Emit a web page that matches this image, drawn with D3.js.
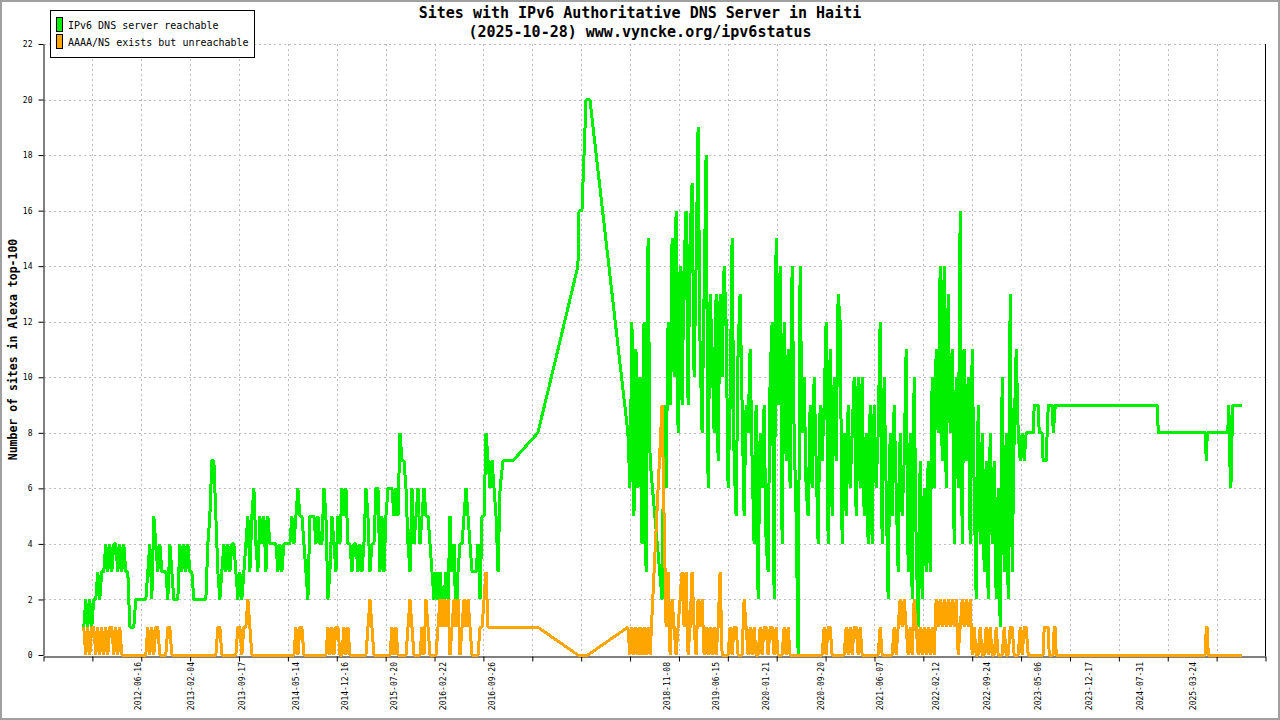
<!DOCTYPE html>
<html>
<head>
<meta charset="utf-8">
<script src="https://cdn.jsdelivr.net/npm/d3@7/dist/d3.min.js"></script>
<style>
  body { margin: 0; background: #fff; }
  svg { display: block; }
  text { font-family: "DejaVu Sans Mono", monospace; fill: #000; }
</style>
</head>
<body>
<svg id="chart"></svg>
<script>
const W = 1280, H = 720;

// ---- data ----
const seriesNames = ["IPv6 DNS server reachable", "AAAA/NS exists but unreachable"];
const seriesColors = ["#00f000", "#ffa500"];

const xDomain = ["2011-04-26", "2026-02-07"];
const yTickValues = [0, 2, 4, 6, 8, 10, 12, 14, 16, 18, 20, 22];
const xLabelDates = ["2012-06-16", "2013-02-04", "2013-09-17", "2014-05-14", "2014-12-16",
  "2015-07-20", "2016-02-22", "2016-09-26", "2018-11-08", "2019-06-15", "2020-01-21",
  "2020-09-20", "2021-06-07", "2022-02-12", "2022-09-24", "2023-05-06", "2023-12-17",
  "2024-07-31", "2025-03-24"];

// first run of daily samples (evenly spaced between the two dates)
const segA = ["2011-10-21", "2016-10-25"];
const greenA = [
  1,2,1,2,1,2,2,3,2,3, 3,4,3,4,3,4,4,3,4,3, 4,3,3,1,1,1,2,2,2,2, 2,2,3,4,2,5,4,3,4,3,
  3,3,2,4,3,2,2,2,4,3, 4,3,4,3,3,2,2,2,2,2, 2,2,4,5,7,7,5,3,2,3, 4,3,4,3,4,4,3,2,3,2,
  3,4,5,3,5,6,4,3,5,4, 5,3,5,4,4,4,4,3,4,3, 4,4,4,4,5,4,5,6,5,5, 4,3,2,5,5,5,4,5,4,4,
  6,5,2,3,5,4,3,5,4,6, 5,6,4,4,3,4,4,3,4,3, 4,6,5,3,4,4,6,6,3,5, 3,5,6,6,6,5,6,5,8,7,
  7,6,4,3,6,4,5,6,4,5, 6,5,5,4,3,2,3,2,3,2, 2,3,2,5,3,4,1,3,4,4, 5,6,5,4,3,3,3,4,2,5,
  5,8,7,6,7,6,5,3];
const orangeA = [
  1,0,1,0,1,1,0,1,0,1, 0,1,0,1,1,0,1,0,1,0, 0,0,0,0,0,0,0,0,0,0, 0,0,1,0,1,0,1,1,0,0,
  0,0,1,1,0,0,0,0,0,0, 0,0,0,0,0,0,0,0,0,0, 0,0,0,0,0,0,0,1,1,0, 0,0,0,0,0,0,0,1,1,0,
  1,1,2,1,0,0,0,0,0,0, 0,0,0,0,0,0,0,0,0,0, 0,0,0,0,0,0,1,0,1,1, 0,0,0,0,0,0,0,0,0,0,
  0,0,1,0,1,0,1,1,0,0, 1,0,1,0,0,0,0,0,0,0, 0,0,1,2,1,0,0,0,0,0, 0,0,0,0,1,0,1,0,0,0,
  0,0,1,2,1,0,0,0,0,1, 0,2,1,0,0,0,0,1,2,1, 2,1,2,0,1,2,1,2,0,1, 2,1,2,1,0,0,0,0,1,1,
  2,3,1,1,1,1,1,1];

// sparse stretch 2016-2017
const greenGap = [["2016-11-03", 6], ["2016-11-16", 7], ["2016-12-30", 7], ["2017-04-19", 8],
  ["2017-07-17", 11], ["2017-10-13", 14], ["2017-10-18", 16], ["2017-10-31", 16],
  ["2017-11-18", 20], ["2017-12-05", 20]];
const orangeGap = [["2017-04-19", 1], ["2017-10-13", 0], ["2017-11-26", 0]];

// short run mid 2018
const segB = ["2018-05-22", "2018-08-28"];
const greenB = [8,6,12,5,11,6,10,4,12,3,15,7];
const orangeB = [1,0,1,0,1,0,1,0,1,0,1,0];

// long run 2018-2023
const segC = ["2018-10-20", "2023-04-04"];
const greenC = [
  2,9,6,12,9,15,10,16,8,14, 9,14,16,9,15,17,10,14,19,11, 8,13,18,6,13,11,8,13,7,13,
  10,14,12,6,9,15,7,5,11,13, 9,5,9,8,11,7,4,9,2,8, 6,9,4,3,10,12,2,15,9,14,
  4,12,7,11,6,14,8,5,0,14, 8,10,6,5,9,6,10,7,4,9, 7,9,12,4,11,5,10,7,13,12,
  4,8,5,9,6,8,10,5,10,6, 10,5,8,4,9,4,9,6,8,12, 4,10,6,2,8,5,9,6,3,8,
  5,7,11,3,8,2,10,4,1,7, 2,6,3,7,3,10,6,11,8,14, 7,14,6,13,8,11,4,10,6,16,
  4,11,7,10,4,11,6,2,9,4, 8,3,7,2,8,4,7,2,6,1, 10,3,8,2,13,3,8,11,8,7,
  8,7,8,8,8];
const orangeC = [
  9,5,1,3,0,2,1,0,1,2, 3,1,3,0,1,3,1,0,2,1, 2,0,1,0,1,0,1,0,1,3,
  0,0,0,0,1,0,1,1,0,0, 0,2,1,0,1,0,1,0,0,1, 0,1,1,0,1,1,0,1,0,0,
  0,1,0,1,0,0,0,0,0,0, 0,0,0,0,0,0,0,0,0,0, 0,1,0,1,1,0,0,0,0,0,
  0,0,1,0,1,0,1,1,0,1, 0,0,0,0,0,0,0,0,0,1, 0,0,0,0,0,0,1,0,1,2,
  1,2,1,0,1,0,2,1,0,1, 0,1,0,1,0,1,0,2,1,2, 1,2,1,2,1,2,1,2,0,1,
  2,1,2,1,2,0,1,0,0,1, 0,0,1,0,1,0,0,1,0,0, 0,1,0,0,1,1,0,0,0,1,
  0,1,1,0,0];

// sparse tail 2023-2025
const greenTail = [["2023-04-17", 8], ["2023-04-22", 9], ["2023-05-09", 9], ["2023-05-14", 8],
  ["2023-05-27", 8], ["2023-05-31", 7], ["2023-06-14", 7], ["2023-06-18", 8], ["2023-06-23", 9],
  ["2023-07-10", 9], ["2023-07-15", 8], ["2023-07-24", 9], ["2024-10-17", 9], ["2024-10-21", 8],
  ["2025-05-17", 8], ["2025-05-21", 7], ["2025-05-26", 8], ["2025-08-24", 8], ["2025-08-29", 9],
  ["2025-09-02", 7], ["2025-09-07", 6], ["2025-09-15", 9], ["2025-10-28", 9]];
const orangeTail = [["2023-04-17", 0], ["2023-05-31", 0], ["2023-06-05", 1], ["2023-06-23", 1],
  ["2023-06-27", 0], ["2023-07-15", 0], ["2023-07-19", 1], ["2023-07-24", 1], ["2023-07-28", 0],
  ["2025-05-17", 0], ["2025-05-21", 1], ["2025-05-26", 1], ["2025-05-30", 0], ["2025-10-28", 0]];

// ---- build ----
const parse = d3.utcParse("%Y-%m-%d");

function expand(seg, values) {
  const t0 = +parse(seg[0]), t1 = +parse(seg[1]);
  const n = values.length;
  return values.map((v, i) => ({ date: new Date(t0 + (t1 - t0) * i / (n - 1)), value: v }));
}
function pairs(list) {
  return list.map(d => ({ date: parse(d[0]), value: d[1] }));
}

const greenData = [].concat(expand(segA, greenA), pairs(greenGap), expand(segB, greenB),
  expand(segC, greenC), pairs(greenTail));
const orangeData = [].concat(expand(segA, orangeA), pairs(orangeGap), expand(segB, orangeB),
  expand(segC, orangeC), pairs(orangeTail));

const plotLeft = 43.5, plotRight = 1265.5, plotTop = 44, plotBottom = 655;

const x = d3.scaleUtc()
  .domain(xDomain.map(parse))
  .range([plotLeft, plotRight]);
const y = d3.scaleLinear()
  .domain([0, 22])
  .range([plotBottom, plotTop]);

const svg = d3.select('#chart')
  .attr('width', W)
  .attr('height', H);

// outer frame
svg.append('rect')
  .attr('x', 1).attr('y', 1)
  .attr('width', W - 2).attr('height', H - 2)
  .attr('fill', '#fff')
  .attr('stroke', '#a0a0a0')
  .attr('stroke-width', 2);

// evenly spaced minor ticks along the time axis
const nTicks = 25;
const [d0, d1] = x.domain();
const tickDates = d3.range(nTicks + 1).map(i => new Date(+d0 + (d1 - d0) * i / nTicks));

// grid
const grid = svg.append('g')
  .attr('stroke', '#bdbdbd')
  .attr('stroke-width', 1)
  .attr('stroke-dasharray', '2,3')
  .attr('shape-rendering', 'crispEdges');
grid.selectAll('line.h')
  .data(yTickValues.filter(v => v > 0))
  .enter().append('line')
  .attr('x1', plotLeft).attr('x2', plotRight - 1)
  .attr('y1', d => Math.round(y(d)) + 0.5)
  .attr('y2', d => Math.round(y(d)) + 0.5);
grid.selectAll('line.v')
  .data(tickDates.slice(1, -1))
  .enter().append('line')
  .attr('x1', d => Math.round(x(d)) + 0.5)
  .attr('x2', d => Math.round(x(d)) + 0.5)
  .attr('y1', plotTop).attr('y2', plotBottom);

// x axis (ticks only)
const xAxis = svg.append('g')
  .attr('transform', `translate(0,${plotBottom + 1.5})`)
  .call(d3.axisBottom(x).tickValues(tickDates).tickSize(5).tickSizeOuter(0).tickFormat(''));
xAxis.select('.domain').attr('stroke', '#000');
xAxis.selectAll('.tick line').attr('stroke', '#000');

// x axis date labels
const fmt = d3.utcFormat("%Y-%m-%d");
const xLab = svg.append('g')
  .attr('transform', `translate(0,${plotBottom + 7})`)
  .call(d3.axisBottom(x).tickValues(xLabelDates.map(parse)).tickSize(0).tickFormat(fmt));
xLab.select('.domain').remove();
xLab.selectAll('.tick text')
  .attr('font-family', '"DejaVu Sans Mono", monospace')
  .attr('font-size', 8)
  .attr('fill', '#000')
  .attr('text-anchor', 'end')
  .attr('transform', 'rotate(-90)')
  .attr('x', 0)
  .attr('y', 0)
  .attr('dx', 0)
  .attr('dy', '0.35em');

// y axis
const yAxis = svg.append('g')
  .attr('transform', `translate(${plotLeft},0)`)
  .call(d3.axisLeft(y).tickValues(yTickValues).tickSize(5).tickSizeOuter(0).tickPadding(6));
yAxis.select('.domain').attr('stroke', '#000');
yAxis.selectAll('.tick line').attr('stroke', '#000');
yAxis.selectAll('.tick text')
  .attr('font-family', '"DejaVu Sans Mono", monospace')
  .attr('font-size', 8)
  .attr('fill', '#000');

// right frame line
svg.append('line')
  .attr('x1', plotRight).attr('x2', plotRight)
  .attr('y1', plotTop).attr('y2', plotBottom + 1)
  .attr('stroke', '#000')
  .attr('stroke-width', 1);

// data lines, drawn over the axes
const line = d3.line()
  .x(d => x(d.date))
  .y(d => y(d.value));

[greenData, orangeData].forEach((data, i) => {
  svg.append('path')
    .datum(data)
    .attr('d', line)
    .attr('fill', 'none')
    .attr('stroke', seriesColors[i])
    .attr('stroke-width', 3)
    .attr('stroke-linejoin', 'bevel')
    .attr('shape-rendering', 'crispEdges');
});

// y title
svg.append('text')
  .attr('transform', `translate(17,${(plotTop + plotBottom) / 2}) rotate(-90)`)
  .attr('text-anchor', 'middle')
  .attr('font-size', 11.5)
  .attr('font-weight', 'bold')
  .text('Number of sites in Alexa top-100');

// title
svg.append('text')
  .attr('x', 640).attr('y', 18)
  .attr('text-anchor', 'middle')
  .attr('font-size', 15)
  .attr('font-weight', 'bold')
  .text('Sites with IPv6 Authoritative DNS Server in Haiti');
svg.append('text')
  .attr('x', 640).attr('y', 37)
  .attr('text-anchor', 'middle')
  .attr('font-size', 15)
  .attr('font-weight', 'bold')
  .text('(2025-10-28) www.vyncke.org/ipv6status');

// legend
const legend = svg.append('g');
legend.append('rect')
  .attr('x', 50.5).attr('y', 10.5)
  .attr('width', 204).attr('height', 47)
  .attr('fill', '#fff')
  .attr('stroke', '#000');
seriesNames.forEach((name, i) => {
  legend.append('rect')
    .attr('x', 56.5).attr('y', 17.5 + i * 17)
    .attr('width', 6).attr('height', 14)
    .attr('fill', seriesColors[i])
    .attr('stroke', '#000');
  legend.append('text')
    .attr('x', 68).attr('y', 25 + i * 17)
    .attr('dy', '0.35em')
    .attr('font-size', 10)
    .text(name);
});
</script>
</body>
</html>
